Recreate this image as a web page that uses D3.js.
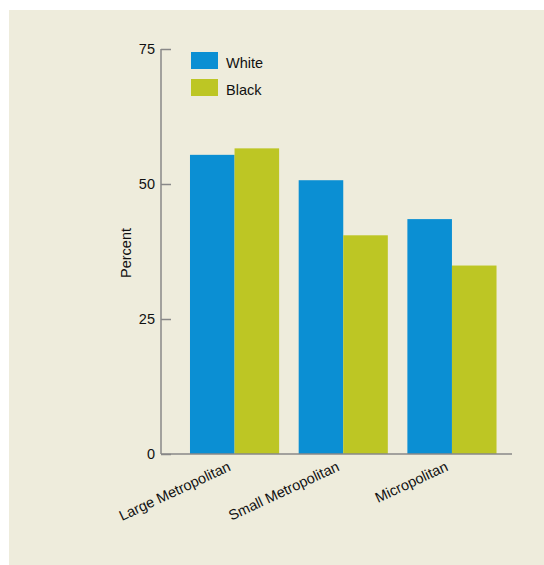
<!DOCTYPE html>
<html><head><meta charset="utf-8">
<script src="https://cdn.jsdelivr.net/npm/d3@7"></script>
<style>body{margin:0;background:#fff;}svg{display:block;font-family:"Liberation Sans",Arial,sans-serif;}</style>
</head><body>
<svg id="c" width="544" height="565"></svg>
<script>
const categories = ["Large Metropolitan", "Small Metropolitan", "Micropolitan"];
const seriesNames = ["White", "Black"];
const whiteValues = [55.4, 50.7, 43.5];
const blackValues = [56.6, 40.5, 34.9];
const yTicks = [0, 25, 50, 75];

const colors = {White: "#0b8fd3", Black: "#bdc624"};
const FS = 14.5;
const svg = d3.select("#c");
svg.append("rect").attr("x", 9).attr("y", 10).attr("width", 535).attr("height", 555).attr("fill", "#eeecdc");

const y = d3.scaleLinear().domain([0, 75]).range([454, 49]);
const x0 = d3.scaleBand().domain(categories).range([180.2, 506.3]).paddingInner(0.18).paddingOuter(0.09);
const x1 = d3.scaleBand().domain(seriesNames).range([0, x0.bandwidth()]);

const data = categories.map((c, i) => ({cat: c, vals: [{s: "White", v: whiteValues[i]}, {s: "Black", v: blackValues[i]}]}));

const g = svg.append("g");
g.selectAll("g.grp").data(data).join("g").attr("class", "grp")
  .attr("transform", d => `translate(${x0(d.cat)},0)`)
  .selectAll("rect").data(d => d.vals).join("rect")
  .attr("x", d => x1(d.s)).attr("width", x1.bandwidth())
  .attr("y", d => y(d.v)).attr("height", d => y(0) - y(d.v))
  .attr("fill", d => colors[d.s]);

// y axis
const yAxis = d3.axisRight(y).tickValues(yTicks).tickSize(10).tickFormat(d3.format("d"));
const ya = svg.append("g").attr("transform", "translate(161,0)").call(yAxis);
ya.select(".domain").attr("stroke", "#888").attr("stroke-width", 1.5).attr("d", `M0,${y(75)}V${y(0)}`);
ya.selectAll(".tick line").attr("stroke", "#888").attr("stroke-width", 1.5);
ya.selectAll(".tick text").attr("x", -6).attr("text-anchor", "end").attr("font-size", FS).attr("fill", "#111").attr("font-family", "Liberation Sans, Arial, sans-serif");

// x axis line
svg.append("line").attr("x1", 161).attr("x2", 512).attr("y1", y(0)).attr("y2", y(0)).attr("stroke", "#888").attr("stroke-width", 1.5);

// x labels
svg.append("g").selectAll("text").data(categories).join("text")
  .attr("transform", d => `translate(${x0(d) + x0.bandwidth()/2 - 3},${y(0) + 16}) rotate(-25)`)
  .attr("text-anchor", "end").attr("font-size", FS).attr("fill", "#111").text(d => d);

// y label
svg.append("text").attr("transform", "translate(131,253) rotate(-90)").attr("text-anchor", "middle")
  .attr("font-size", FS).attr("fill", "#111").text("Percent");

// legend
const leg = svg.append("g").selectAll("g").data(seriesNames).join("g")
  .attr("transform", (d, i) => `translate(191,${52 + i * 27})`);
leg.append("rect").attr("width", 27).attr("height", 17).attr("fill", d => colors[d]);
leg.append("text").attr("x", 35).attr("y", 16).attr("font-size", FS).attr("fill", "#111").text(d => d);
</script>
</body></html>
